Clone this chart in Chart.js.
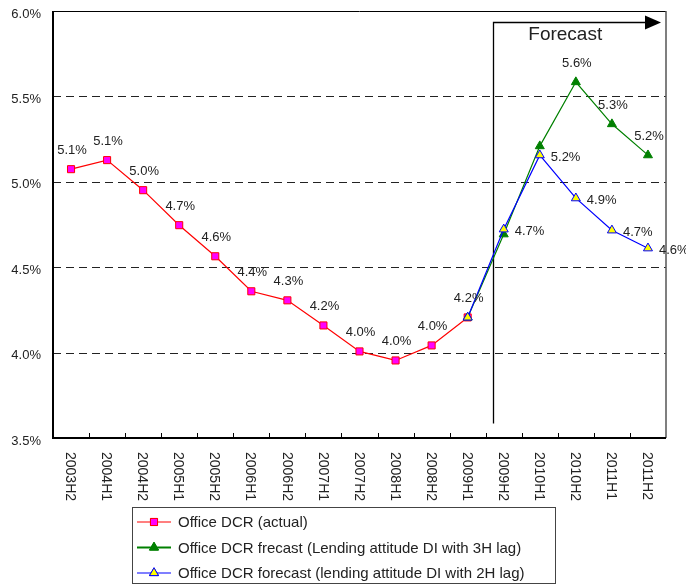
<!DOCTYPE html>
<html><head><meta charset="utf-8">
<script src="https://cdn.jsdelivr.net/npm/chart.js@4.4.0/dist/chart.umd.min.js"></script>
<style>html,body{margin:0;padding:0;background:#fff}#wrap{width:686px;height:587px;position:relative}</style>
</head><body><div id="wrap"><canvas id="c" width="686" height="587"></canvas></div>
<script>
const categories = ['2003H2','2004H1','2004H2','2005H1','2005H2','2006H1','2006H2','2007H1','2007H2','2008H1','2008H2','2009H1','2009H2','2010H1','2010H2','2011H1','2011H2'];
const actualValues = [5.074,5.127,4.951,4.746,4.564,4.359,4.306,4.159,4.007,3.954,4.042,4.206,null,null,null,null,null];
const forecast3H = [null,null,null,null,null,null,null,null,null,null,null,4.206,4.693,5.209,5.584,5.338,5.156];
const forecast2H = [null,null,null,null,null,null,null,null,null,null,null,4.206,4.722,5.156,4.904,4.716,4.611];
const yTicks = [3.5,4.0,4.5,5.0,5.5,6.0];
const seriesNames = ['Office DCR (actual)','Office DCR frecast (Lending attitude DI with 3H lag)','Office DCR forecast (lending attitude DI with 2H lag)'];
const forecastText = 'Forecast';

const FONT = '"Liberation Sans", Arial, sans-serif';
const TXT = '#222';

const labelSpec = [
  {ds:0, idx:[0,1,2,3,4,5,6,7,8,9,10,11], pos:'above'},
  {ds:1, idx:[14,15,16], pos:'above'},
  {ds:2, idx:[12,13,14,15,16], pos:'right'}
];

const styles = [
  {color:'#FF0000', fill:'#FF00FF', shape:'rect', r:5},
  {color:'#008000', fill:'#008000', shape:'triangle', r:5.2},
  {color:'#0000FF', fill:'#FFFF00', shape:'triangle', r:5.2}
];

const custom = {
  id:'custom',
  beforeDatasetsDraw(chart){
    const {ctx, chartArea:a, scales:{x,y}} = chart;
    ctx.save();
    ctx.strokeStyle = '#222'; ctx.lineWidth = 1; ctx.setLineDash([8,5]);
    yTicks.forEach(v=>{
      if (v===yTicks[0] || v===yTicks[yTicks.length-1]) return;
      const py = Math.round(y.getPixelForValue(v))+0.5;
      ctx.beginPath(); ctx.moveTo(a.left, py); ctx.lineTo(a.right, py); ctx.stroke();
    });
    ctx.setLineDash([]);
    // forecast marker
    const x11 = x.getPixelForValue(11), x12 = x.getPixelForValue(12);
    const fx = Math.round(x11 + 0.69*(x12-x11)) + 0.5;
    const fyTop = Math.round(y.getPixelForValue(5.935)) + 0.5;
    const fyBot = y.getPixelForValue(3.585);
    ctx.strokeStyle = '#000'; ctx.lineWidth = 1.3;
    ctx.beginPath(); ctx.moveTo(fx, fyBot); ctx.lineTo(fx, fyTop); ctx.lineTo(a.right-20, fyTop); ctx.stroke();
    ctx.fillStyle = '#000';
    ctx.beginPath(); ctx.moveTo(a.right-21, fyTop-7); ctx.lineTo(a.right-5, fyTop); ctx.lineTo(a.right-21, fyTop+7); ctx.closePath(); ctx.fill();
    ctx.fillStyle = TXT; ctx.font = '19px '+FONT; ctx.textAlign='center'; ctx.textBaseline='middle';
    ctx.fillText(forecastText, (fx + a.right-5)/2 - 12, fyTop + 12);
    ctx.restore();
  },
  afterDatasetsDraw(chart){
    const {ctx, chartArea:a, scales:{x,y}} = chart;
    ctx.save();
    // box
    ctx.strokeStyle = '#000';
    ctx.lineWidth = 1; ctx.beginPath(); ctx.moveTo(a.left, a.top+0.5); ctx.lineTo(a.right, a.top+0.5); ctx.stroke();
    ctx.strokeStyle = '#555'; ctx.lineWidth = 1.5; ctx.beginPath(); ctx.moveTo(a.right, a.top); ctx.lineTo(a.right, a.bottom); ctx.stroke();
    ctx.strokeStyle = '#000'; ctx.lineWidth = 2;
    ctx.beginPath(); ctx.moveTo(a.left, a.top); ctx.lineTo(a.left, a.bottom); ctx.lineTo(a.right, a.bottom); ctx.stroke();
    // inward ticks
    ctx.lineWidth = 1;
    const n = categories.length, w = (a.right-a.left)/n;
    for (let i=1;i<n;i++){ const px = Math.round(a.left+i*w)+0.5; ctx.beginPath(); ctx.moveTo(px,a.bottom-5); ctx.lineTo(px,a.bottom); ctx.stroke(); }
    // data labels
    ctx.fillStyle = TXT; ctx.font = '13px '+FONT; ctx.textBaseline='middle';
    labelSpec.forEach(s=>{
      const data = chart.data.datasets[s.ds].data;
      s.idx.forEach(i=>{
        const v = data[i]; if (v==null) return;
        const px = x.getPixelForValue(i), py = y.getPixelForValue(v);
        const t = v.toFixed(1)+'%';
        if (s.pos==='above'){ ctx.textAlign='center'; ctx.fillText(t, px+1, py-19); }
        else { ctx.textAlign='left'; ctx.fillText(t, px+11, py+2); }
      });
    });
    ctx.restore();
  },
  afterDraw(chart){
    const {ctx, chartArea:a, scales:{x}} = chart;
    ctx.save();
    // x labels rotated clockwise
    ctx.fillStyle = TXT; ctx.font = '14px '+FONT; ctx.textAlign='left'; ctx.textBaseline='middle';
    categories.forEach((c,i)=>{
      const px = x.getPixelForValue(i);
      ctx.save(); ctx.translate(px-1, a.bottom+14); ctx.rotate(Math.PI/2); ctx.fillText(c,0,0); ctx.restore();
    });
    // legend
    const lx = 132.5, ly = 507.5, lw = 423, lh = 76;
    ctx.strokeStyle = '#444'; ctx.lineWidth = 1; ctx.strokeRect(lx, ly, lw, lh);
    ctx.font = '15px '+FONT; ctx.textAlign='left'; ctx.textBaseline='middle';
    seriesNames.forEach((name,k)=>{
      const cy = 522 + k*25.5;
      const st = styles[k];
      ctx.strokeStyle = st.color; ctx.lineWidth = k===1 ? 2 : 1.2;
      ctx.beginPath(); ctx.moveTo(137, cy); ctx.lineTo(171, cy); ctx.stroke();
      ctx.lineWidth = 1;
      ctx.fillStyle = st.fill; ctx.strokeStyle = st.color;
      Chart.helpers.drawPoint(ctx, {pointStyle: st.shape, radius: st.r, rotation:0, borderWidth:1}, 154, cy);
      ctx.fill(); ctx.stroke();
      ctx.fillStyle = TXT;
      ctx.fillText(name, 178, cy+1);
    });
    ctx.restore();
  }
};

const datasets = [actualValues, forecast3H, forecast2H].map((d,k)=>({
  label: seriesNames[k],
  data: d,
  borderColor: styles[k].color,
  backgroundColor: styles[k].fill,
  pointBackgroundColor: styles[k].fill,
  pointBorderColor: styles[k].color,
  pointStyle: styles[k].shape,
  pointRadius: styles[k].r,
  pointBorderWidth: 1,
  borderWidth: 1.2,
  tension: 0,
  spanGaps: false,
  order: [2,1,0][k]
}));

new Chart(document.getElementById('c'), {
  type:'line',
  data:{labels: categories, datasets},
  options:{
    responsive:false, animation:false, devicePixelRatio:1,
    layout:{padding:{top:11,right:20,left:0,bottom:0}},
    plugins:{legend:{display:false}, tooltip:{enabled:false}},
    scales:{
      x:{type:'category', offset:true, grid:{display:false}, border:{display:false},
         ticks:{display:false}, afterFit(s){ s.height = 149; s.paddingLeft = 0; s.paddingRight = 0; }},
      y:{type:'linear', min:3.5, max:6.0, grid:{display:false, drawTicks:false}, border:{display:false},
         afterBuildTicks(s){ s.ticks = yTicks.map(v=>({value:v})); },
         ticks:{callback:v=>Number(v).toFixed(1)+'%', color:TXT, font:{family:FONT, size:13}, padding:12, labelOffset:3},
         afterFit(s){ s.width = 53; s.paddingTop = 0; s.paddingBottom = 0; }}
    }
  },
  plugins:[custom]
});
</script></body></html>
